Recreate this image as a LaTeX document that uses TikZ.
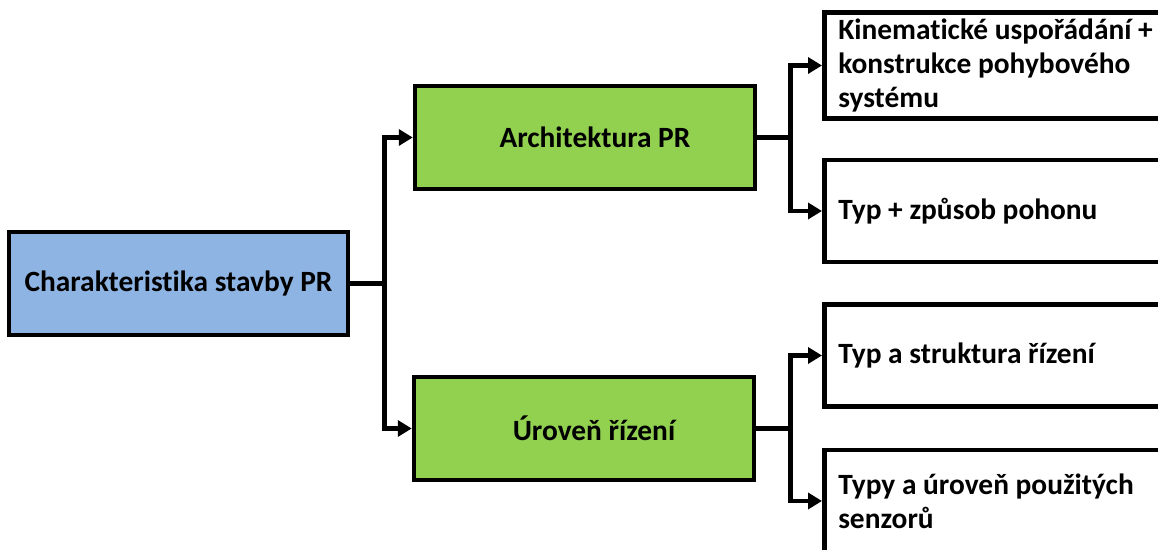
\documentclass[tikz,border=0pt]{standalone}
\usepackage{fontspec}
\setmainfont{Carlito}[Ligatures={NoCommon}]
\usetikzlibrary{arrows.meta,positioning}

\definecolor{rootblue}{HTML}{8EB4E3}
\definecolor{partgreen}{HTML}{92D050}

\begin{document}
\begin{tikzpicture}[x=0.5pt,y=-0.5pt,
    box/.style={draw=black,line width=2.25pt,font=\fontsize{14.7}{16.8}\selectfont\bfseries},
    rootbox/.style={box,fill=rootblue,minimum width=169.5pt,minimum height=51.5pt},
    partbox/.style={box,fill=partgreen,minimum width=170pt,minimum height=51.5pt},
    itembox/.style={box,fill=white,anchor=west,text width=190pt,align=flush left,
        inner xsep=7pt,minimum height=51pt},
    wire/.style={line width=2.25pt},
    feed/.style={wire,-{Triangle[length=7pt,width=8pt]}}]
  \useasboundingbox (0,0) rectangle (1158,550);
  \clip (0,0) rectangle (1158,550);

  % nodes
  \node[rootbox] (root) at (178.5,283.5) {Charakteristika stavby PR};
  \node[partbox] (arch) at (585,137.5) {\hspace*{10pt}Architektura PR};
  \node[partbox] (ctrl) at (584,428.5) {\hspace*{10pt}Úroveň řízení};
  \node[itembox] (kin) at (822,65.5) {Kinematické uspořádání +\\konstrukce pohybového\\systému};
  \node[itembox] (drive) at (822,211) {Typ + způsob pohonu};
  \node[itembox] (struct) at (822,355.5) {Typ a struktura řízení};
  \node[itembox] (sens) at (822,501) {Typy a úroveň použitých\\senzorů};

  % connectors
  \draw[wire] (root.east) -- ++(17pt,0) coordinate (jroot);
  \draw[feed] (jroot) |- (arch.west);
  \draw[feed] (jroot) |- (ctrl.west);
  \draw[wire] (arch.east) -- ++(16.5pt,0) coordinate (jarch);
  \draw[feed] (jarch) |- (kin.west);
  \draw[feed] (jarch) |- (drive.west);
  \draw[wire] (ctrl.east) -- ++(17pt,0) coordinate (jctrl);
  \draw[feed] (jctrl) |- (struct.west);
  \draw[feed] (jctrl) |- (sens.west);
\end{tikzpicture}
\end{document}
